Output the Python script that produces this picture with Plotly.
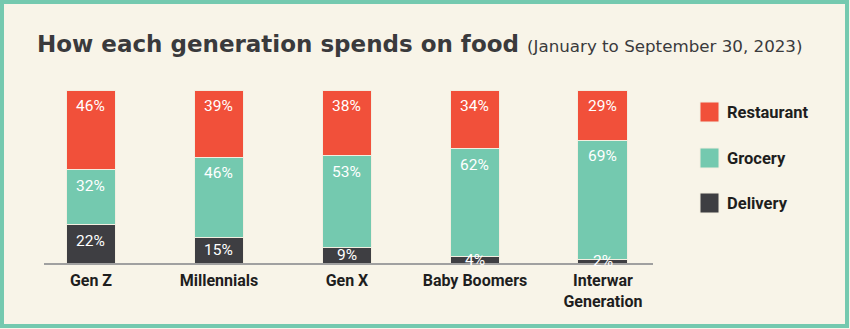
import plotly.graph_objects as go

categories = ["Gen Z", "Millennials", "Gen X", "Baby Boomers", "Interwar<br>Generation"]
delivery = [22, 15, 9, 4, 2]
grocery = [32, 46, 53, 62, 69]
restaurant = [46, 39, 38, 34, 29]
series_names = ["Restaurant", "Grocery", "Delivery"]

W, H = 850, 329
ML, MR, MT, MB = 44, 197, 90, 66
BG = "#F8F4E8"
TEAL = "#74C9AF"
RED = "#F1503A"
DARK = "#3E3E42"
colors = {"Restaurant": RED, "Grocery": TEAL, "Delivery": DARK}

fig = go.Figure()
stack = [("Delivery", delivery), ("Grocery", grocery), ("Restaurant", restaurant)]
for name, vals in stack:
    fig.add_trace(go.Bar(
        x=list(range(len(categories))), y=vals, name=name,
        marker=dict(color=colors[name], line=dict(color="#F3EEE0", width=1)),
        width=0.39, showlegend=False, hoverinfo="skip",
    ))

# percentage labels
px_per_unit = (H - MT - MB) / 100.0
annotations = []
base = [0] * len(categories)
for name, vals in stack:
    for i, v in enumerate(vals):
        bottom = base[i]
        top = bottom + v
        y = max(top - 16 / px_per_unit, (top + bottom) / 2)
        annotations.append(dict(x=i, y=y, xref="x", yref="y", text=f"{v}%",
                                showarrow=False, yanchor="middle",
                                font=dict(family="Roboto", size=15.5, color="white")))
        base[i] = top

pw = W - ML - MR
ph = H - MT - MB
def px_x(p):
    return (p - ML) / pw
def px_y(p):
    return 1 - (p - MT) / ph

# title
annotations.append(dict(x=px_x(35), y=px_y(44), xref="paper", yref="paper", xanchor="left",
                        yanchor="middle", showarrow=False,
                        text="<b>How each generation spends on food</b>",
                        font=dict(family="DejaVu Sans", size=23, color="#3A3A3C")))
annotations.append(dict(x=px_x(525), y=px_y(46), xref="paper", yref="paper", xanchor="left",
                        yanchor="middle", showarrow=False,
                        text="(January to September 30, 2023)",
                        font=dict(family="DejaVu Sans", size=16.7, color="#3A3A3C")))

shapes = []
# legend
leg_y = [112, 158, 203]
for name, cy in zip(series_names, leg_y):
    shapes.append(dict(type="rect", xref="paper", yref="paper",
                       x0=px_x(700), x1=px_x(719), y0=px_y(cy - 10), y1=px_y(cy + 10),
                       fillcolor=colors[name], line=dict(color="#F3EEE0", width=1)))
    annotations.append(dict(x=px_x(725), y=px_y(cy), xref="paper", yref="paper",
                            xanchor="left", yanchor="middle", showarrow=False,
                            text=f"<b>{name}</b>",
                            font=dict(family="Roboto", size=16.5, color="#1E1E1E")))

# outer border
shapes.append(dict(type="rect", xref="paper", yref="paper", layer="above",
                   x0=px_x(2), x1=px_x(847), y0=px_y(2), y1=px_y(326),
                   line=dict(color=TEAL, width=4), fillcolor="rgba(0,0,0,0)"))

fig.update_layout(
    width=W, height=H, margin=dict(l=ML, r=MR, t=MT, b=MB),
    paper_bgcolor=BG, plot_bgcolor=BG, barmode="stack",
    annotations=annotations, shapes=shapes, showlegend=False,
    xaxis=dict(range=[-0.367, 4.391], tickvals=list(range(len(categories))),
               ticktext=[f"<b>{c}</b>" for c in categories],
               tickfont=dict(family="Roboto", size=16, color="#1E1E1E"),
               showline=True, linecolor="#A0A0A0", linewidth=1.5,
               ticks="outside", ticklen=2, tickcolor="rgba(0,0,0,0)",
               showgrid=False, zeroline=False, fixedrange=True),
    yaxis=dict(range=[0, 100], visible=False, fixedrange=True),
)

fig.write_html("out.html", config={"displayModeBar": False})
